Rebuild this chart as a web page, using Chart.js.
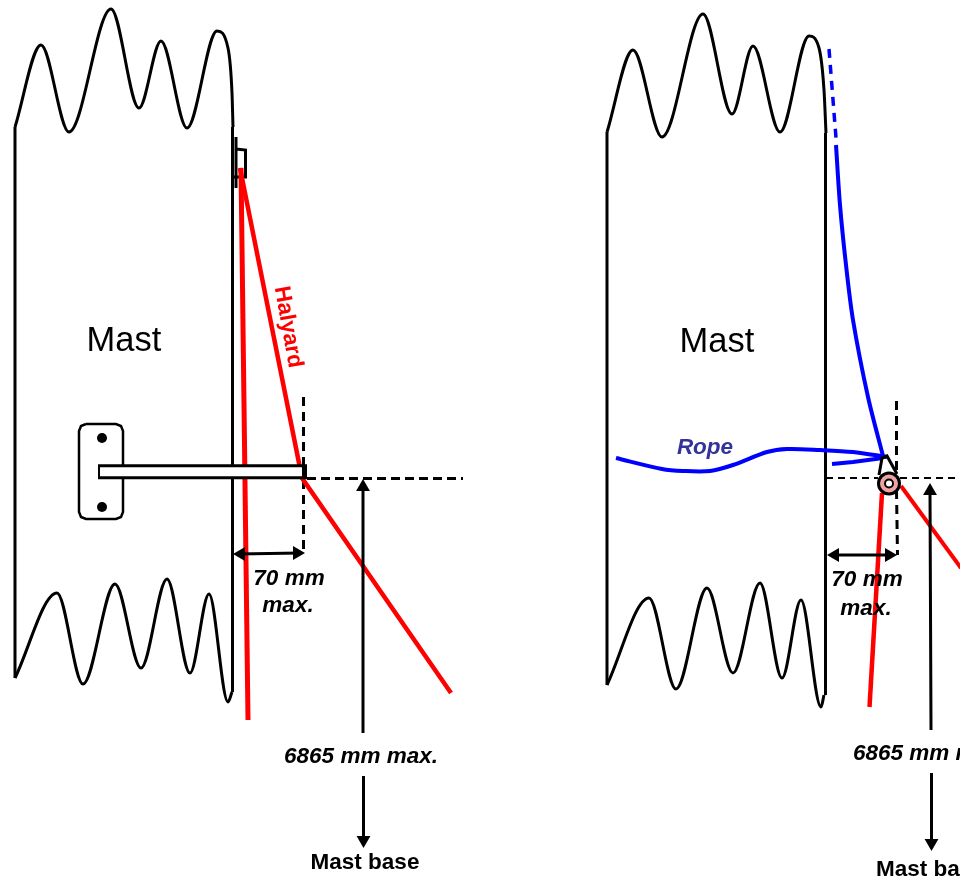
<!DOCTYPE html>
<html>
<head>
<meta charset="utf-8">
<title>Mast halyard limits</title>
<style>
  html, body { margin: 0; padding: 0; background: #fff; }
  #wrap { width: 960px; height: 882px; }
</style>
<script src="https://cdn.jsdelivr.net/npm/chart.js@4/dist/chart.umd.js"></script>
</head>
<body>
<div id="wrap"><canvas id="sketch" width="960" height="882"></canvas></div>
<script>
// Outline of the left mast, peaks and troughs
var mastATopX = [15, 41, 69, 111, 139, 161, 187, 217, 228, 232, 233];
var mastATopY = [127, 45, 132, 9, 108, 41, 128, 31, 48, 93, 127];
var mastABottomX = [15, 57, 83, 115, 141, 167, 190, 209, 228, 232];
var mastABottomY = [678, 593, 684, 584, 668, 579, 673, 594, 702, 692];
var mastAWallsX = [15, 15, null, 232.5, 232.5];
var mastAWallsY = [127, 678, null, 127, 692];

// Outline of the right mast, peaks and troughs
var mastBTopX = [607, 633, 662, 703, 732, 753, 780, 809, 819, 824, 826];
var mastBTopY = [132, 50, 137, 14, 114, 46, 132, 36, 48, 90, 133];
var mastBBottomX = [607, 649, 676, 707, 733, 760, 782, 801, 821, 824];
var mastBBottomY = [685, 598, 689, 588, 673, 583, 678, 600, 707, 695];
var mastBWallsX = [607, 607, null, 825.5, 825.5];
var mastBWallsY = [132, 685, null, 133, 695];

// Halyards
var halyardADownX = [241, 248];
var halyardADownY = [168, 720];
var halyardAOutX = [240, 302, 451];
var halyardAOutY = [168, 478, 693];
var halyardBDownX = [882, 869.5];
var halyardBDownY = [493, 707];
var halyardBOutX = [901, 961];
var halyardBOutY = [486, 568];

// Rope
var ropeDashX = [829, 836];
var ropeDashY = [49, 138];
var ropeUpX = [836, 840, 846, 853, 868, 883];
var ropeUpY = [145, 205, 265, 320, 397, 456];
var ropeTailX = [616, 662, 683, 710, 733, 767, 787, 820, 853, 887];
var ropeTailY = [458, 469, 471, 471, 465, 452, 449, 450, 452, 457];
var ropeEndX = [832, 853, 883];
var ropeEndY = [464, 462, 458];

// Fittings
var hookX = [236, 236, null, 236, 245.5, 245.5, 233];
var hookY = [137, 188, null, 149, 150, 177, 177];
var plateX = [86, 116, 121, 123, 123, 121, 116, 86, 81, 79, 79, 81, 86];
var plateY = [424, 424, 426, 431, 512, 517, 519, 519, 517, 512, 431, 426, 424];
var plateHoleX = [102, 102];
var plateHoleY = [438, 507];
var armOuterX = [98, 307];
var armInnerX = [100, 302];
var armY = [471.7, 471.7];
var slingX = [879, 882, 887, 897];
var slingY = [475, 458, 456, 474];
var pulleyX = [889];
var pulleyY = [483.5];

// Dimension lines
var guideAX = [303.5, 303.5, null, 303.5, 303.5];
var guideAY = [397, 466, null, 480, 555];
var levelAX = [307, 463];
var levelAY = [478.5, 478.5];
var guideBX = [896.5, 896.5, null, 896.5, 897.5];
var guideBY = [401, 474, null, 490, 555];
var levelBX = [826, 878, null, 900, 960];
var levelBY = [478, 478, null, 478, 478];
var spanAX = [238, 300];
var spanAY = [554, 553];
var spanBX = [832, 892];
var spanBY = [555, 555];
var heightAX = [363, 363, null, 363.5, 363.5];
var heightAY = [488, 733, null, 776, 836];
var heightBX = [930, 931, null, 931.5, 931.5];
var heightBY = [492, 730, null, 773, 839];

// Arrow heads: point x, y and which way the triangle faces
var headX = [363, 363.5, 930, 931.5, 241, 297, 835, 889];
var headY = [487, 840, 491, 843, 554, 553, 555, 555];
var headTurn = [0, 180, 0, 180, 270, 90, 270, 90];

// Text
var labelText = ['Mast', 'Mast', 'Halyard', 'Rope', '70 mm', 'max.', '70 mm', 'max.', '6865 mm max.', '6865 mm max.', 'Mast base', 'Mast base'];
var labelX = [124, 717, 288, 705, 289, 288, 867, 866, 361, 853, 365, 876];
var labelY = [341, 342, 327, 448, 579, 606, 580, 609, 757, 754, 863, 870];
var labelFont = ['34.5px', '34.5px', 'bold 22.5px', 'italic bold 22.5px', 'italic bold 22.5px', 'italic bold 22.5px', 'italic bold 22.5px', 'italic bold 22.5px', 'italic bold 22.5px', 'italic bold 22.5px', 'bold 22.5px', 'bold 22.5px'];
var labelColor = ['#000', '#000', '#ff0000', '#333399', '#000', '#000', '#000', '#000', '#000', '#000', '#000', '#000'];
var labelAlign = ['center', 'center', 'center', 'center', 'center', 'center', 'center', 'center', 'center', 'left', 'center', 'left'];
var labelTurn = [0, 0, 80, 0, 0, 0, 0, 0, 0, 0, 0, 0];

function pts(xs, ys) {
    return xs.map(function (x, i) {
        return {x: x, y: ys[i]};
    });
}

function line(xs, ys, color, width, extra) {
    return Object.assign({
        data: pts(xs, ys),
        showLine: true,
        borderColor: color,
        borderWidth: width,
        pointRadius: 0,
        tension: 0,
        spanGaps: false
    }, extra || {});
}

var wave = {cubicInterpolationMode: 'monotone'};
var curve = {tension: 0.3};
var RED = '#ff0000';
var BLUE = '#0000ff';

// Draws the labels on top of the lines, placed through the scales
var labelPlugin = {
    id: 'labels',
    afterDatasetsDraw: function (chart) {
        var ctx = chart.ctx;
        labelText.forEach(function (text, i) {
            ctx.save();
            ctx.translate(chart.scales.x.getPixelForValue(labelX[i]), chart.scales.y.getPixelForValue(labelY[i]));
            ctx.rotate(labelTurn[i] * Math.PI / 180);
            ctx.font = labelFont[i] + ' "Liberation Sans", Arial, sans-serif';
            ctx.fillStyle = labelColor[i];
            ctx.textAlign = labelAlign[i];
            ctx.textBaseline = 'middle';
            ctx.fillText(text, 0, 0);
            ctx.restore();
        });
    }
};

// First dataset ends up on top
var datasets = [
    // pulley
    {data: pts(pulleyX, pulleyY), pointStyle: 'circle', pointRadius: 4, pointBackgroundColor: '#fff', pointBorderColor: '#000', pointBorderWidth: 2},
    {data: pts(pulleyX, pulleyY), pointStyle: 'circle', pointRadius: 10.5, pointBackgroundColor: '#eda3a3', pointBorderColor: '#000', pointBorderWidth: 3},
    line(slingX, slingY, '#000', 3),

    // arrows
    {data: pts(headX, headY), pointStyle: 'triangle', pointRadius: 8, pointRotation: headTurn, pointBackgroundColor: '#000', pointBorderWidth: 0},
    line(spanAX, spanAY, '#000', 3),
    line(spanBX, spanBY, '#000', 3),
    line(heightAX, heightAY, '#000', 3),
    line(heightBX, heightBY, '#000', 3),

    // rope
    line(ropeUpX, ropeUpY, BLUE, 4, curve),
    line(ropeTailX, ropeTailY, BLUE, 4, curve),
    line(ropeEndX, ropeEndY, BLUE, 4),
    line(ropeDashX, ropeDashY, BLUE, 3.5, {borderDash: [9, 7]}),

    // arm in front of mast and halyard
    line(armInnerX, armY, '#fff', 9),
    line(armOuterX, armY, '#000', 15),
    {data: pts(plateHoleX, plateHoleY), pointStyle: 'circle', pointRadius: 5, pointBackgroundColor: '#000', pointBorderWidth: 0},
    line(plateX, plateY, '#000', 2.5),

    // halyards
    line(halyardADownX, halyardADownY, RED, 5),
    line(halyardAOutX, halyardAOutY, RED, 4.5),
    line(halyardBDownX, halyardBDownY, RED, 4.5),
    line(halyardBOutX, halyardBOutY, RED, 4),

    // dashed guides
    line(guideAX, guideAY, '#000', 3, {borderDash: [9, 6]}),
    line(levelAX, levelAY, '#000', 3, {borderDash: [9, 5]}),
    line(guideBX, guideBY, '#000', 3, {borderDash: [9, 6]}),
    line(levelBX, levelBY, '#000', 2, {borderDash: [7, 5]}),

    // masts
    line(hookX, hookY, '#000', 3),
    line(mastATopX, mastATopY, '#000', 3, wave),
    line(mastABottomX, mastABottomY, '#000', 3, wave),
    line(mastAWallsX, mastAWallsY, '#000', 3),
    line(mastBTopX, mastBTopY, '#000', 3, wave),
    line(mastBBottomX, mastBBottomY, '#000', 3, wave),
    line(mastBWallsX, mastBWallsY, '#000', 3)
];

new Chart(document.getElementById('sketch'), {
    type: 'scatter',
    data: {datasets: datasets},
    options: {
        responsive: false,
        animation: false,
        devicePixelRatio: 1,
        layout: {padding: 0, autoPadding: false},
        plugins: {legend: {display: false}, tooltip: {enabled: false}},
        scales: {
            x: {type: 'linear', display: false, min: 0, max: 960},
            y: {type: 'linear', display: false, min: 0, max: 882, reverse: true}
        }
    },
    plugins: [labelPlugin]
});
</script>
</body>
</html>
